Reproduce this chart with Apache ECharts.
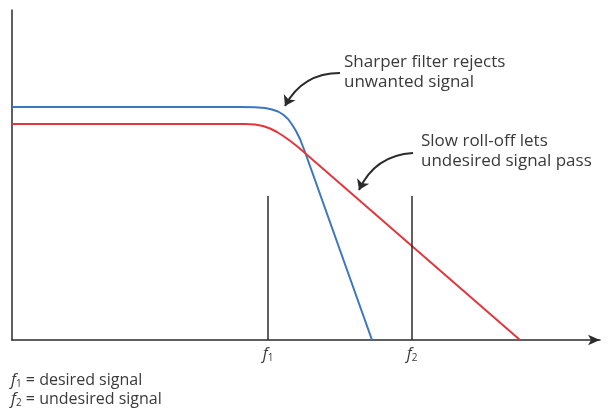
<!DOCTYPE html>
<html><head><meta charset="utf-8">
<script src="https://cdn.jsdelivr.net/npm/echarts@6/dist/echarts.min.js"></script>
<style>html,body{margin:0;padding:0;background:#fff}#c{width:608px;height:417px}</style>
</head><body><div id="c"></div>
<script>
// frequency axis (arbitrary units), gain axis (arbitrary units)
const sharpX = [0, 228, 243, 253, 260, 266, 271, 276, 280, 284, 288, 293, 360];
const sharpY = [233, 233, 232.7, 232, 230.5, 228.5, 225.5, 221, 215.5, 209, 201, 188, 0];
const slowX = [0, 233, 243, 251, 258, 265, 272, 279, 286, 508];
const slowY = [216, 216, 215.5, 214, 211.5, 208, 203.5, 198.5, 193, 0];
const markerFreqs = [256, 400];
const markerNames = ['1', '2'];
const markerHeight = 144;
const arrowSharp = [[328, 267], [273, 234]];
const arrowSlow = [[401, 187], [347, 150]];

const zip = (xs, ys) => xs.map((x, i) => [x, ys[i]]);
const ink = '#2b2b2b';
const font = '"Open Sans", sans-serif';
const txt = '#3a3a3a';

const chart = echarts.init(document.getElementById('c'));
chart.setOption({
  animation: false,
  grid: { left: 12, top: 10, width: 588, height: 330 },
  xAxis: {
    type: 'value', min: 0, max: 588,
    splitLine: { show: false },
    axisLine: { lineStyle: { color: ink, width: 1.5 }, symbol: ['none', 'arrow'], symbolSize: [8, 12] },
    axisTick: { show: false },
    axisLabel: {
      show: true, customValues: markerFreqs, margin: 6,
      formatter: v => '{f|f}{s|' + markerNames[markerFreqs.indexOf(v)] + '}',
      rich: {
        f: { fontFamily: font, fontStyle: 'italic', fontSize: 16, color: txt },
        s: { fontFamily: font, fontSize: 10, color: txt, padding: [7, 0, 0, 0] }
      }
    }
  },
  yAxis: {
    type: 'value', min: 0, max: 330,
    splitLine: { show: false },
    axisLine: { show: true, lineStyle: { color: ink, width: 1.5 } },
    axisTick: { show: false }, axisLabel: { show: false }
  },
  series: [
    { type: 'line', data: zip(sharpX, sharpY), showSymbol: false, lineStyle: { color: '#3b76bf', width: 2 } },
    { type: 'line', data: zip(slowX, slowY), showSymbol: false, lineStyle: { color: '#e0383e', width: 2 } },
    ...markerFreqs.map(f => ({
      type: 'line', data: [[f, 0], [f, markerHeight]], showSymbol: false,
      lineStyle: { color: ink, width: 1.5 }
    })),
    {
      type: 'lines', coordinateSystem: 'cartesian2d',
      symbol: ['none', 'arrow'], symbolSize: 10,
      lineStyle: { color: ink, width: 2, curveness: -0.3, opacity: 1 },
      data: [{ coords: arrowSharp }, { coords: arrowSlow }]
    }
  ],
  graphic: [
    { type: 'text', left: 344, top: 52, style: { text: 'Sharper filter rejects\nunwanted signal', font: '17px ' + font, fill: txt, lineHeight: 20 } },
    { type: 'text', left: 421, top: 131, style: { text: 'Slow roll-off lets\nundesired signal pass', font: '17px ' + font, fill: txt, lineHeight: 20 } },
    { type: 'text', left: 11, top: 372, style: {
      text: '{f|f}{s|1}{t| = desired signal}\n{f|f}{s|2}{t| = undesired signal}',
      rich: {
        f: { fontFamily: font, fontStyle: 'italic', fontSize: 16, fill: txt, lineHeight: 19 },
        s: { fontFamily: font, fontSize: 10, fill: txt, padding: [7, 0, 0, 0], lineHeight: 19 },
        t: { fontFamily: font, fontSize: 16, fill: txt, lineHeight: 19 }
      }
    } }
  ]
});
</script></body></html>
